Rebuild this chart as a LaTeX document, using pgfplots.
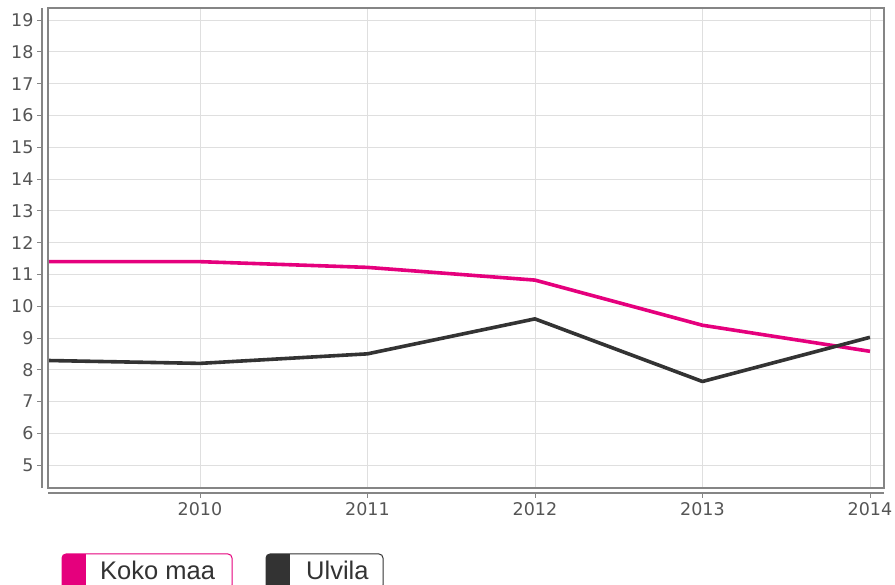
\documentclass[border=0pt]{standalone}
\usepackage{pgfplots}
\pgfplotsset{compat=1.18}
\usepackage{fontspec}
\setmainfont{DejaVu Sans}
\newfontfamily\legfont{Liberation Sans}
\definecolor{kpink}{HTML}{E5007D}
\definecolor{kdark}{HTML}{333333}
\definecolor{kgrid}{HTML}{DFDFDF}
\definecolor{kframe}{HTML}{858585}
\definecolor{ktext}{HTML}{555555}
\begin{document}
\begin{tikzpicture}[x=1pt,y=1pt]
\useasboundingbox (0,0) rectangle (895,585);
\begin{axis}[
  scale only axis,
  width=836pt, height=480pt,
  at={(48pt,97pt)}, anchor=south west,
  xmin=2009.093, xmax=2014.084,
  ymin=4.28, ymax=19.38,
  axis x line*=bottom, axis y line*=left,
  axis x line shift=5pt, axis y line shift=6pt,
  axis line style={kframe, line width=1.2pt, -},
  xtick={2010,2011,2012,2013,2014},
  ytick={5,6,...,19},
  tick align=outside,
  major tick length=5pt,
  tick style={kframe, line width=0.8pt},
  grid=major,
  major grid style={kgrid, line width=0.8pt},
  /pgf/number format/1000 sep={},
  /pgf/number format/assume math mode=true,
  tick label style={font=\fontsize{17.5}{19}\selectfont, text=ktext},
  yticklabel style={xshift=0pt},
  xticklabel style={yshift=-1pt},
  clip=true,
  after end axis/.code={
    \draw[kframe, line width=1.2pt] (rel axis cs:0,0) rectangle (rel axis cs:1,1);
  },
]
\addplot[kpink, line width=3.6pt, line join=round] coordinates {
  (2009,11.4) (2010,11.4) (2011,11.22) (2012,10.82) (2013,9.4) (2014,8.58)
};
\addplot[kdark, line width=3.6pt, line join=round] coordinates {
  (2009,8.3) (2010,8.2) (2011,8.5) (2012,9.6) (2013,7.63) (2014,9.02)
};
\end{axis}
% legend
\begin{scope}
  \clip[rounded corners=4pt] (62,-4) rectangle (232,31);
  \fill[white] (62,-4) rectangle (232,31);
  \fill[kpink] (62,-4) rectangle (86,31);
\end{scope}
\draw[kpink, line width=1pt, rounded corners=4pt] (62,-4) rectangle (232,31);
\node[anchor=base west, inner sep=0pt, text=kdark] at (100,5) {\legfont\fontsize{25.5}{28}\selectfont Koko maa};
\begin{scope}
  \clip[rounded corners=4pt] (266,-4) rectangle (383,31);
  \fill[white] (266,-4) rectangle (383,31);
  \fill[kdark] (266,-4) rectangle (290,31);
\end{scope}
\draw[kdark, line width=1pt, rounded corners=4pt] (266,-4) rectangle (383,31);
\node[anchor=base west, inner sep=0pt, text=kdark] at (306,5) {\legfont\fontsize{25.5}{28}\selectfont Ulvila};
\end{tikzpicture}
\end{document}
